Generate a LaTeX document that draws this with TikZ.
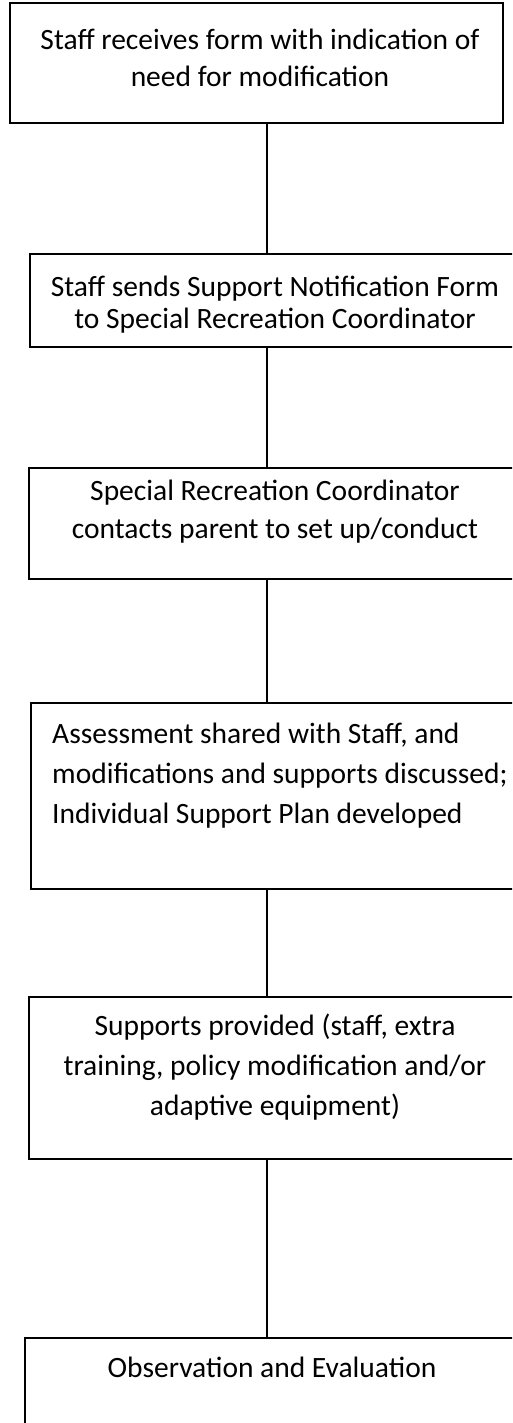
\documentclass[tikz,border=0pt]{standalone}
\usepackage{fontspec}
\setmainfont{Carlito}
\begin{document}
\begin{tikzpicture}[x=1pt,y=1pt,
  box/.style={draw=black, line width=2pt, inner sep=0pt, rectangle},
  txt/.style={inner sep=0pt, text=black},
  conn/.style={draw=black, line width=2pt}]
\useasboundingbox (0,0) rectangle (512,-1423);
\clip (0,0) rectangle (512,-1423);
\fill[white] (0,0) rectangle (512,-1423);
\coordinate (cx) at (266.5,0);
% boxes
\node[box, minimum width=493, minimum height=120] (b1) at (256.5,-63) {};
\node[box, minimum width=492, minimum height=93] (b2) at (276,-300.5) {};
\node[box, minimum width=493, minimum height=111] (b3) at (275.5,-523.5) {};
\node[box, minimum width=491, minimum height=186] (b4) at (276.5,-796) {};
\node[box, minimum width=493, minimum height=162] (b5) at (275.5,-1078) {};
\node[box, minimum width=500, minimum height=142] (b6) at (275,-1409) {};
% texts (anchor = baseline of last line)
\node[txt, anchor=base, align=center, font=\fontsize{29.5}{37}\selectfont] (t1) at (260,-87)
  {Staff receives form with indication of\\need for modification};
\node[txt, anchor=base, align=center, font=\fontsize{29.5}{32}\selectfont] (t2) at (275,-328)
  {Staff sends Support Notification Form\\to Special Recreation Coordinator};
\node[txt, anchor=base, align=center, font=\fontsize{29.5}{38}\selectfont] (t3) at (275,-538)
  {Special Recreation Coordinator\\contacts parent to set up/conduct};
\node[txt, anchor=base west, align=left, font=\fontsize{29.5}{40}\selectfont] (t4) at (52,-823)
  {Assessment shared with Staff, and\\modifications and supports discussed;\\Individual Support Plan developed};
\node[txt, anchor=base, align=center, font=\fontsize{29.5}{40}\selectfont] (t5) at (275,-1115)
  {Supports provided (staff, extra\\training, policy modification and/or\\adaptive equipment)};
\node[txt, anchor=base, align=center, font=\fontsize{29.5}{40}\selectfont] (t6) at (272,-1377)
  {Observation and Evaluation};
% connectors
\draw[conn] (b1.south -| cx) -- (b2.north -| cx);
\draw[conn] (b2.south -| cx) -- (b3.north -| cx);
\draw[conn] (b3.south -| cx) -- (b4.north -| cx);
\draw[conn] (b4.south -| cx) -- (b5.north -| cx);
\draw[conn] (b5.south -| cx) -- (b6.north -| cx);
\end{tikzpicture}
\end{document}
